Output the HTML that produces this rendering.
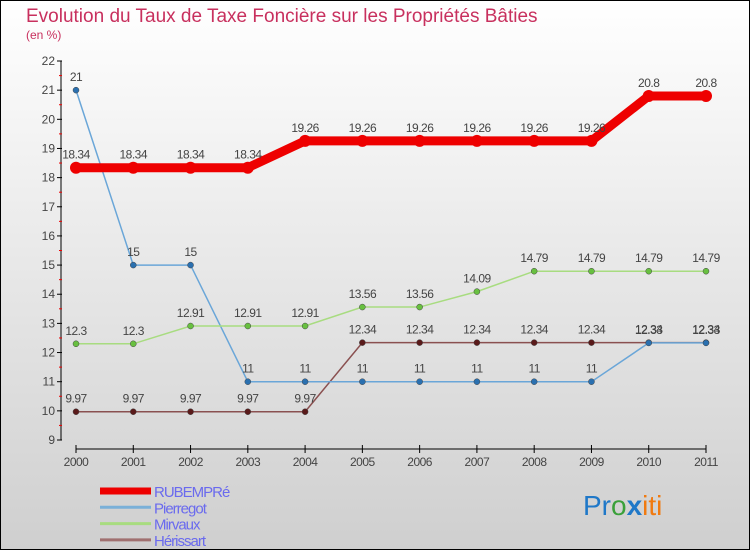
<!DOCTYPE html>
<html><head><meta charset="utf-8"><style>
body{margin:0}
#c{width:750px;height:550px;position:relative;overflow:hidden}
</style></head><body>
<div id="c">
<svg id="s" width="750" height="550" xmlns="http://www.w3.org/2000/svg" font-family="'Liberation Sans', sans-serif">
<defs><linearGradient id="bg" x1="0" y1="0" x2="0" y2="1"><stop offset="0" stop-color="#ffffff"/><stop offset="1" stop-color="#cfcfcf"/></linearGradient></defs>
<rect x="0.5" y="0.5" width="749" height="549" fill="url(#bg)" stroke="#000"/>
<text x="26" y="22" font-size="19" fill="#c8305e">Evolution du Taux de Taxe Foncière sur les Propriétés Bâties</text>
<text x="26" y="39" font-size="12" fill="#c8305e">(en %)</text>
<g id="axes"></g><g id="series"></g><g id="legend"></g>
<text x="583" y="515" font-size="28"><tspan fill="#1f78c8">Pr</tspan><tspan fill="#3aa03a">o</tspan><tspan fill="#1f78c8" font-weight="bold">x</tspan><tspan fill="#f07a10">iti</tspan></text>
</svg>
</div>
<script>
const years=[2000,2001,2002,2003,2004,2005,2006,2007,2008,2009,2010,2011];
const yTicks=[9,10,11,12,13,14,15,16,17,18,19,20,21,22];
const seriesNames=["RUBEMPRé","Pierregot","Mirvaux","Hérissart"];
const rubempre=[18.34,18.34,18.34,18.34,19.26,19.26,19.26,19.26,19.26,19.26,20.8,20.8];
const pierregot=[21,15,15,11,11,11,11,11,11,11,12.33,12.33];
const mirvaux=[12.3,12.3,12.91,12.91,12.91,13.56,13.56,14.09,14.79,14.79,14.79,14.79];
const herissart=[9.97,9.97,9.97,9.97,9.97,12.34,12.34,12.34,12.34,12.34,12.34,12.34];
const NS="http://www.w3.org/2000/svg";
const X=i=>76+i*(630/11);
const Y=v=>61+(22-v)*(379/13);
function mk(tag,attrs,parent){const e=document.createElementNS(NS,tag);for(const k in attrs)e.setAttribute(k,attrs[k]);parent.appendChild(e);return e;}
const ax=document.getElementById('axes');
let l=mk('line',{x1:61,y1:61,x2:61,y2:440,stroke:'#000'},ax);


yTicks.forEach(v=>{
 mk('line',{x1:57,y1:Y(v),x2:62,y2:Y(v),stroke:'#000'},ax);
 if(v<22)mk('line',{x1:59,y1:Y(v+0.5),x2:62,y2:Y(v+0.5),stroke:'#e00'},ax);
 const t=mk('text',{x:55,y:Y(v)+4,'font-size':12,'text-anchor':'end',fill:'#444'},ax);t.textContent=v;
 
 
});
l=mk('line',{x1:76,y1:449,x2:706,y2:449,stroke:'#000'},ax);


years.forEach((y,i)=>{
 mk('line',{x1:X(i),y1:445,x2:X(i),y2:453,stroke:'#000'},ax);
 const t=mk('text',{x:X(i),y:466,'font-size':12,'text-anchor':'middle',fill:'#444','letter-spacing':'-0.5'},ax);t.textContent=y;
 
 
});
const sg=document.getElementById('series');
const cfg=[[herissart,'#8a5050','#5a1a1a',1.5,3,'herissart'],[pierregot,'#6aa6d8','#2a70b0',1.5,3,'pierregot'],[mirvaux,'#a8dc80','#68c040',1.5,3,'mirvaux'],[rubempre,'#ee0000','#ee0000',9,6,'rubempre']];
cfg.forEach(([d,c,pc,w,r,n])=>{
 const g=mk('g',{},sg);
 
 
 const p=mk('polyline',{points:d.map((v,i)=>X(i)+','+Y(v)).join(' '),fill:'none',stroke:c,'stroke-width':w},g);
 
 
 d.forEach((v,i)=>{
  const pt=mk('circle',{cx:X(i),cy:Y(v),r:r,fill:pc,stroke:w>2?'none':'#444','stroke-width':0.5},g);
  
  
  const t=mk('text',{x:X(i),y:Y(v)-9,'font-size':12,'text-anchor':'middle',fill:'#444','letter-spacing':'-0.5'},g);
  t.textContent=v;
  
  
 });
});
const lg=document.getElementById('legend');
const lc=['#ee0000','#7ab0d8','#a8dc80','#a07070'];const lw=[7,3,3,3];
seriesNames.forEach((n,i)=>{
 const y=491+i*16.3;
 const g=mk('g',{},lg);
 
 
 mk('line',{x1:100,y1:y,x2:151,y2:y,stroke:lc[i],'stroke-width':lw[i]},g);
 const t=mk('text',{x:154,y:y+6,'font-size':15,fill:'#6a6aee','letter-spacing':'-1'},g);t.textContent=n;
});
</script>
</body></html>
